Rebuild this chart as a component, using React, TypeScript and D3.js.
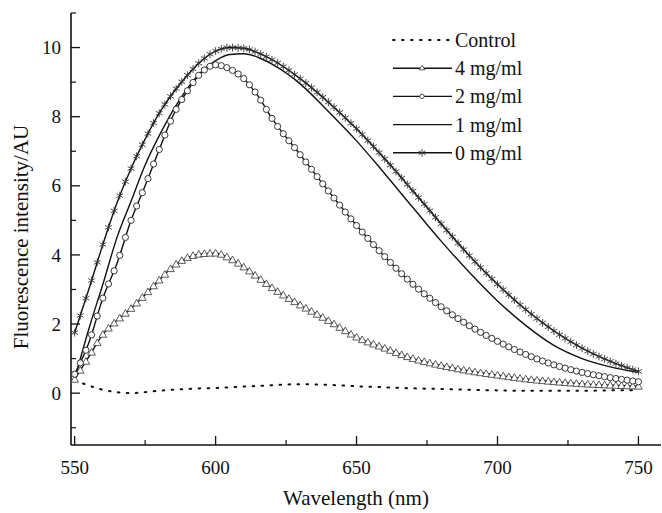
import React, { useRef, useLayoutEffect, useState } from 'react';
import * as d3 from 'd3';

const wavelengths = [550, 555, 560, 565, 570, 575, 580, 585, 590, 595, 600, 605, 610, 615, 620, 630, 640, 650, 660, 670, 680, 690, 700, 710, 720, 730, 740, 750];
const control = [0.38, 0.22, 0.1, 0.03, 0.0, 0.03, 0.07, 0.1, 0.12, 0.14, 0.15, 0.17, 0.19, 0.21, 0.23, 0.26, 0.24, 0.2, 0.17, 0.14, 0.12, 0.1, 0.08, 0.07, 0.07, 0.07, 0.08, 0.09];
const mg4 = [0.4, 1.05, 1.7, 2.1, 2.45, 2.85, 3.27, 3.67, 3.92, 4.03, 4.05, 3.9, 3.65, 3.35, 3.05, 2.55, 2.1, 1.62, 1.3, 1.0, 0.8, 0.64, 0.52, 0.41, 0.33, 0.27, 0.23, 0.2];
const mg2 = [0.55, 1.45, 2.75, 3.75, 5.0, 6.0, 7.05, 8.05, 8.75, 9.28, 9.5, 9.38, 9.1, 8.6, 7.95, 6.9, 5.85, 4.85, 3.95, 3.15, 2.5, 1.95, 1.5, 1.12, 0.82, 0.6, 0.45, 0.33];
const mg1 = [0.4, 1.85, 3.15, 4.5, 5.55, 6.6, 7.45, 8.2, 8.82, 9.3, 9.62, 9.8, 9.82, 9.72, 9.52, 8.95, 8.15, 7.3, 6.35, 5.37, 4.4, 3.5, 2.67, 1.96, 1.38, 1.0, 0.76, 0.6];
const mg0 = [1.75, 3.0, 4.3, 5.5, 6.5, 7.35, 8.1, 8.7, 9.2, 9.62, 9.9, 10.0, 9.98, 9.85, 9.65, 9.1, 8.42, 7.65, 6.78, 5.85, 4.9, 3.98, 3.15, 2.42, 1.8, 1.3, 0.92, 0.63];

const seriesNames = ['Control', '4 mg/ml', '2 mg/ml', '1 mg/ml', '0 mg/ml'];
const seriesMarkers = ['none', 'triangle', 'circle', 'none', 'star'];
const seriesValues = [control, mg4, mg2, mg1, mg0];
const xTicks = [550, 600, 650, 700, 750];
const yTicks = [0, 2, 4, 6, 8, 10];

const W = 662, H = 513;
const X0 = 71, X1 = 661, Y0 = 13, Y1 = 445;
const xScale = d3.scaleLinear().domain([548.7, 758]).range([X0, X1]);
const yScale = d3.scaleLinear().domain([-1.5, 11]).range([Y1, Y0]);
const FONT = "'Liberation Serif', 'DejaVu Serif', serif";

function Marker({ type, x, y }: { type: string; x: number; y: number }) {
  if (type === 'circle') return <circle cx={x} cy={y} r={3.1} fill="white" stroke="#222" strokeWidth={0.9} />;
  if (type === 'triangle') {
    const s = 3.8;
    return <path d={`M${x},${y - s}L${x + s},${y + s * 0.75}L${x - s},${y + s * 0.75}Z`} fill="white" stroke="#333" strokeWidth={0.8} />;
  }
  if (type === 'star') {
    const r = 3.9;
    const segs = [0, 60, 120].map((a) => {
      const rad = (a * Math.PI) / 180 + Math.PI / 2;
      const dx = r * Math.cos(rad), dy = r * Math.sin(rad);
      return `M${x - dx},${y - dy}L${x + dx},${y + dy}`;
    });
    return <path d={segs.join('')} stroke="#333" strokeWidth={0.9} fill="none" />;
  }
  return null;
}

export default function App() {
  const pathRefs = useRef<(SVGPathElement | null)[]>([]);
  const [markerPts, setMarkerPts] = useState<{ x: number; y: number }[][]>([]);

  const line = d3
    .line<number>()
    .x((_, i) => xScale(wavelengths[i]))
    .y((d) => yScale(d))
    .curve(d3.curveMonotoneX);

  useLayoutEffect(() => {
    const result: { x: number; y: number }[][] = [];
    seriesValues.forEach((_, si) => {
      const p = pathRefs.current[si];
      const pts: { x: number; y: number }[] = [];
      if (p && seriesMarkers[si] !== 'none') {
        const total = p.getTotalLength();
        for (let w = 550; w <= 750; w += 2) {
          const tx = xScale(w);
          let lo = 0, hi = total;
          for (let k = 0; k < 30; k++) {
            const mid = (lo + hi) / 2;
            if (p.getPointAtLength(mid).x < tx) lo = mid; else hi = mid;
          }
          const pt = p.getPointAtLength((lo + hi) / 2);
          pts.push({ x: pt.x, y: pt.y });
        }
      }
      result.push(pts);
    });
    setMarkerPts(result);
  }, []);

  const yMinor = d3.range(-1, 12, 2);
  const xMinor = [575, 625, 675, 725];
  const ts = { fontFamily: FONT };

  return (
    <svg width={W} height={H} style={{ position: 'absolute', left: 0, top: 0, background: 'white' }}>
      <rect width={W} height={H} fill="white" />
      <line x1={X0} y1={Y0} x2={X0} y2={Y1} stroke="#111" strokeWidth={1.6} />
      <line x1={X0} y1={Y1} x2={X1} y2={Y1} stroke="#111" strokeWidth={1.6} />
      {yTicks.map((t) => (
        <g key={'yt' + t}>
          <line x1={X0} x2={X0 + 9} y1={yScale(t)} y2={yScale(t)} stroke="#111" strokeWidth={1.3} />
          <text x={61} y={yScale(t)} dy="0.35em" textAnchor="end" style={ts} fontSize={19} fill="#111">{t}</text>
        </g>
      ))}
      {yMinor.map((t) => (
        <line key={'ym' + t} x1={X0} x2={X0 + 5} y1={yScale(t)} y2={yScale(t)} stroke="#111" strokeWidth={1.2} />
      ))}
      {xTicks.map((t) => (
        <g key={'xt' + t}>
          <line x1={xScale(t)} x2={xScale(t)} y1={Y1} y2={Y1 - 9} stroke="#111" strokeWidth={1.3} />
          <text x={xScale(t)} y={474} textAnchor="middle" style={ts} fontSize={19} fill="#111">{t}</text>
        </g>
      ))}
      {xMinor.map((t) => (
        <line key={'xm' + t} x1={xScale(t)} x2={xScale(t)} y1={Y1} y2={Y1 - 5} stroke="#111" strokeWidth={1.2} />
      ))}
      <text x={356} y={505} textAnchor="middle" style={ts} fontSize={21} fill="#111">Wavelength (nm)</text>
      <text transform={`translate(28,237) rotate(-90)`} textAnchor="middle" style={ts} fontSize={21} fill="#111">Fluorescence intensity/AU</text>

      {seriesValues.map((vals, si) => (
        <path
          key={'s' + si}
          ref={(el) => { pathRefs.current[si] = el; }}
          d={line(vals) || ''}
          fill="none"
          stroke="#111"
          strokeWidth={si === 0 ? 2 : 1.4}
          strokeDasharray={si === 0 ? '1.6 7.4' : undefined}
          strokeLinecap={si === 0 ? 'round' : 'butt'}
        />
      ))}
      {markerPts.map((pts, si) =>
        pts.map((p, i) => <Marker key={`m${si}-${i}`} type={seriesMarkers[si]} x={p.x} y={p.y} />)
      )}

      {seriesNames.map((name, i) => {
        const y = 40 + i * 28.2;
        return (
          <g key={'lg' + i}>
            <line x1={393} x2={452} y1={y} y2={y} stroke="#111" strokeWidth={i === 0 ? 2 : 1.4}
              strokeDasharray={i === 0 ? '1.6 7.4' : undefined} strokeLinecap={i === 0 ? 'round' : 'butt'} />
            {seriesMarkers[i] === 'circle' && <circle cx={422} cy={y} r={2.2} fill="white" stroke="#222" strokeWidth={0.8} />}
            {seriesMarkers[i] === 'triangle' && <path d={`M422,${y - 2.8}L425,${y + 1.6}L419,${y + 1.6}Z`} fill="white" stroke="#333" strokeWidth={0.8} />}
            {seriesMarkers[i] === 'star' && <Marker type="star" x={422} y={y} />}
            <text x={455} y={y} dy="0.35em" style={ts} fontSize={20} fill="#111">{name}</text>
          </g>
        );
      })}
    </svg>
  );
}
